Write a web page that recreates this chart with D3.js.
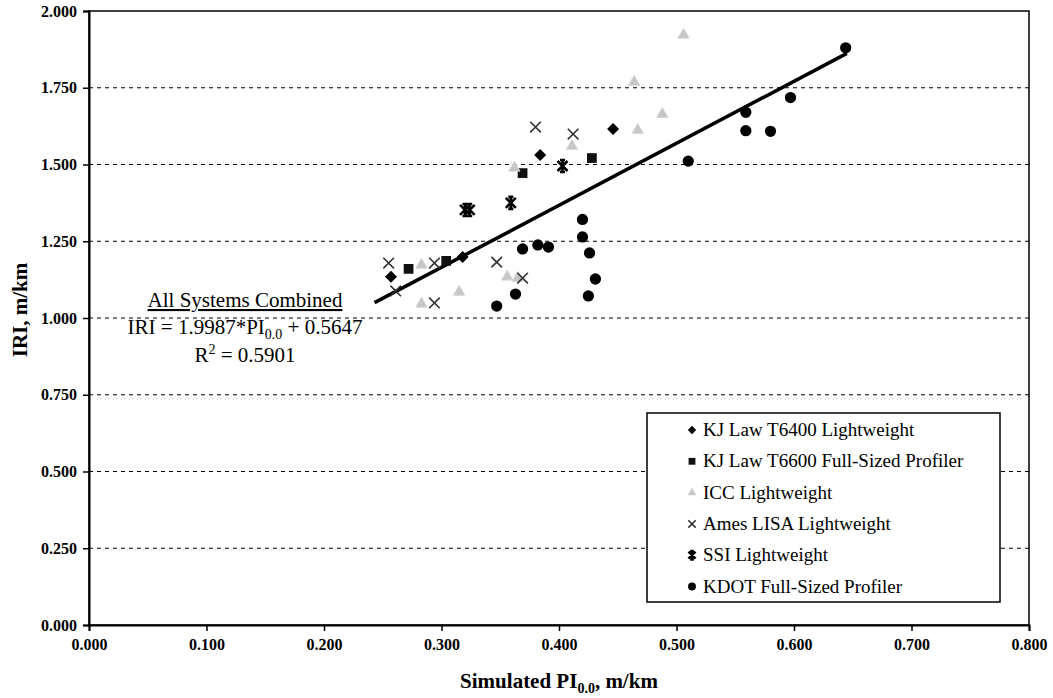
<!DOCTYPE html>
<html>
<head>
<meta charset="utf-8">
<script src="https://cdn.jsdelivr.net/npm/d3@7"></script>
<style>
  body { margin: 0; background: #fff; }
  svg text { font-family: "Liberation Serif", "Times New Roman", serif; }
</style>
</head>
<body>
<div id="chart"></div>
<script>
// values
const kjT6400 = [[0.257, 1.134], [0.318, 1.199], [0.384, 1.531], [0.446, 1.616]];
const kjT6600 = [[0.272, 1.160], [0.304, 1.186], [0.369, 1.472], [0.428, 1.521]];
const icc = [[0.283, 1.173], [0.283, 1.046], [0.315, 1.085], [0.356, 1.134], [0.365, 1.130],
             [0.362, 1.489], [0.411, 1.560], [0.467, 1.612], [0.488, 1.664], [0.464, 1.769], [0.506, 1.922]];
const ames = [[0.255, 1.179], [0.261, 1.088], [0.294, 1.179], [0.294, 1.049], [0.347, 1.182],
              [0.369, 1.130], [0.380, 1.622], [0.412, 1.599]];
const ssi = [[0.320, 1.352], [0.324, 1.352], [0.359, 1.375], [0.403, 1.495]];
const kdot = [[0.347, 1.039], [0.363, 1.078], [0.369, 1.225], [0.382, 1.238], [0.391, 1.231],
              [0.420, 1.321], [0.420, 1.264], [0.426, 1.212], [0.431, 1.127], [0.425, 1.072],
              [0.510, 1.511], [0.559, 1.610], [0.559, 1.670], [0.580, 1.608], [0.597, 1.718], [0.644, 1.880]];
const trendX = [0.243, 0.645];
const trendY = [1.050, 1.862];
const xTicks = [0, 0.1, 0.2, 0.3, 0.4, 0.5, 0.6, 0.7, 0.8];
const yTicks = [0, 0.25, 0.5, 0.75, 1.0, 1.25, 1.5, 1.75, 2.0];
const seriesNames = ["KJ Law T6400 Lightweight", "KJ Law T6600 Full-Sized Profiler", "ICC Lightweight",
                     "Ames LISA Lightweight", "SSI Lightweight", "KDOT Full-Sized Profiler"];

const width = 1053, height = 698;
const plotLeft = 89, plotTop = 11, plotW = 940, plotH = 614;

const svg = d3.select("#chart").append("svg")
    .attr("width", width)
    .attr("height", height);

const x = d3.scaleLinear().domain([0, 0.8]).range([plotLeft, plotLeft + plotW]);
const y = d3.scaleLinear().domain([0, 2]).range([plotTop + plotH, plotTop]);

// dashed gridlines
svg.append("g")
    .selectAll("line")
    .data(yTicks.filter(d => d > 0 && d < 2))
    .enter().append("line")
    .attr("x1", plotLeft).attr("x2", plotLeft + plotW)
    .attr("y1", d => y(d)).attr("y2", d => y(d))
    .attr("stroke", "#000")
    .attr("stroke-width", 1)
    .attr("stroke-dasharray", "4,4");

// frame
svg.append("rect")
    .attr("x", plotLeft).attr("y", plotTop)
    .attr("width", plotW).attr("height", plotH)
    .attr("fill", "none")
    .attr("stroke", "#000")
    .attr("stroke-width", 1.5);

const yAxis = svg.append("g")
    .attr("transform", `translate(${plotLeft},0)`)
    .call(d3.axisLeft(y).tickValues(yTicks).tickFormat(d3.format(".3f")).tickSize(6).tickPadding(6));
const xAxis = svg.append("g")
    .attr("transform", `translate(0,${plotTop + plotH})`)
    .call(d3.axisBottom(x).tickValues(xTicks).tickFormat(d3.format(".3f")).tickSize(6).tickPadding(8));

[yAxis, xAxis].forEach(a => {
    a.select(".domain").attr("stroke", "#000").attr("stroke-width", 2);
    a.selectAll(".tick line").attr("stroke", "#000").attr("stroke-width", 1.5);
    a.selectAll("text")
        .style("font-family", "'Liberation Serif', serif")
        .style("font-size", "16px")
        .style("font-weight", "bold")
        .attr("fill", "#000");
});

// axis titles
const xt = svg.append("text")
    .attr("x", plotLeft + plotW / 2).attr("y", 688)
    .attr("text-anchor", "middle")
    .style("font-size", "21px").style("font-weight", "bold");
xt.append("tspan").text("Simulated PI");
xt.append("tspan").attr("dy", 5).style("font-size", "14px").text("0.0");
xt.append("tspan").attr("dy", -5).text(", m/km");

svg.append("text")
    .attr("transform", `translate(27,${plotTop + plotH / 2 - 8}) rotate(-90)`)
    .attr("text-anchor", "middle")
    .style("font-size", "21px").style("font-weight", "bold")
    .text("IRI, m/km");

// trendline
svg.append("line")
    .attr("x1", x(trendX[0])).attr("y1", y(trendY[0]))
    .attr("x2", x(trendX[1])).attr("y2", y(trendY[1]))
    .attr("stroke", "#000")
    .attr("stroke-width", 3.5);

// markers
const sym = {
    diamond: d3.symbol().type(d3.symbolSquare).size(72),
    square: d3.symbol().type(d3.symbolSquare).size(95),
    triangle: d3.symbol().type(d3.symbolTriangle).size(55),
    times: d3.symbol().type(d3.symbolTimes).size(75),
    circle: d3.symbol().type(d3.symbolCircle).size(100)
};
// SSI star: an X with a vertical bar and short caps
const starPath = "M-5,-5L5,5M-5,5L5,-5M0,-6L0,6M-2.5,-6L2.5,-6M-2.5,6L2.5,6";

function drawMarker(g, kind, scale) {
    const s = scale || 1;
    const p = g.append("path");
    if (kind === "diamond") {
        p.attr("d", sym.diamond).attr("transform", `rotate(45) scale(${s})`).attr("fill", "#000");
    } else if (kind === "square") {
        p.attr("d", sym.square).attr("transform", `scale(${s})`).attr("fill", "#111");
    } else if (kind === "triangle") {
        p.attr("d", sym.triangle).attr("transform", `scale(${s})`).attr("fill", "#c6c6c6").attr("stroke", "#d4d4d4").attr("stroke-width", 1);
    } else if (kind === "times") {
        p.attr("d", sym.times).attr("transform", `scale(${s})`).attr("fill", "none").attr("stroke", "#333").attr("stroke-width", 1.6 / s);
    } else if (kind === "star") {
        p.attr("d", starPath).attr("transform", `scale(${s})`).attr("fill", "none").attr("stroke", "#000").attr("stroke-width", 2.6 / s);
    } else {
        p.attr("d", sym.circle).attr("transform", `scale(${s})`).attr("fill", "#000");
    }
}

const series = [
    { data: kjT6400, kind: "diamond" },
    { data: kjT6600, kind: "square" },
    { data: icc, kind: "triangle" },
    { data: ames, kind: "times" },
    { data: ssi, kind: "star" },
    { data: kdot, kind: "circle" }
];

series.forEach(s => {
    svg.append("g")
        .selectAll("g")
        .data(s.data)
        .enter().append("g")
        .attr("transform", d => `translate(${x(d[0])},${y(d[1])})`)
        .each(function() { drawMarker(d3.select(this), s.kind); });
});

// regression annotation
const ax = 245;
svg.append("text")
    .attr("x", ax).attr("y", 307)
    .attr("text-anchor", "middle")
    .style("font-size", "21px")
    .style("text-decoration", "underline")
    .text("All Systems Combined");
const eq = svg.append("text")
    .attr("x", ax).attr("y", 334)
    .attr("text-anchor", "middle")
    .style("font-size", "21px");
eq.append("tspan").text("IRI = 1.9987*PI");
eq.append("tspan").attr("dy", 5).style("font-size", "14px").text("0.0");
eq.append("tspan").attr("dy", -5).text(" + 0.5647");
const r2 = svg.append("text")
    .attr("x", ax).attr("y", 362)
    .attr("text-anchor", "middle")
    .style("font-size", "21px");
r2.append("tspan").text("R");
r2.append("tspan").attr("dy", -8).style("font-size", "14px").text("2");
r2.append("tspan").attr("dy", 8).text(" = 0.5901");

// legend
const lg = svg.append("g").attr("transform", "translate(647,413)");
lg.append("rect")
    .attr("width", 353).attr("height", 189)
    .attr("fill", "#fff")
    .attr("stroke", "#000")
    .attr("stroke-width", 1.5);
series.forEach((s, i) => {
    const row = lg.append("g").attr("transform", `translate(0,${17 + i * 31.3})`);
    const m = row.append("g").attr("transform", "translate(45,0)");
    drawMarker(m, s.kind, 0.7);
    row.append("text")
        .attr("x", 56).attr("y", 6)
        .style("font-size", "19px")
        .text(seriesNames[i]);
});
</script>
</body>
</html>
